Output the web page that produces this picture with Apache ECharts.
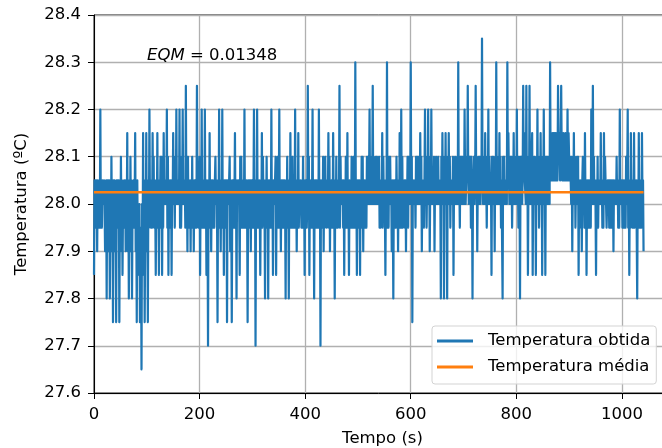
<!DOCTYPE html>
<html>
<head>
<meta charset="utf-8">
<script src="https://cdn.jsdelivr.net/npm/echarts@6/dist/echarts.min.js"></script>
<style>
html,body{margin:0;padding:0;background:#fff;}
#chart{width:662px;height:448px;}
</style>
</head>
<body>
<div id="chart"></div>
<script>
// Temperatura obtida at t = 0, 3, 6, ... s (the spikes)
const obtidaA = [
  27.85,28.05,27.9,28.0,28.2,27.95,28.0,27.9,27.8,28.05,27.8,28.1,27.75,28.05,27.75,28.05,27.75,28.1,27.85,28.05,
  27.9,28.15,27.8,28.1,27.8,28.05,28.15,27.75,28.0,27.75,27.65,28.15,27.75,28.15,27.75,28.2,27.95,28.15,27.95,27.85,
  28.15,27.85,28.1,27.85,28.15,28.0,28.2,27.85,28.05,27.85,28.15,27.95,28.2,28.0,28.2,27.95,28.2,28.0,28.25,27.9,
  28.05,27.9,28.1,27.9,28.05,28.25,27.95,27.85,28.2,27.95,28.2,27.85,27.7,28.15,27.9,28.05,27.95,28.0,27.75,28.2,
  27.9,28.2,27.85,28.05,27.75,28.0,27.9,27.75,28.05,28.15,27.8,28.0,27.85,28.1,27.95,28.2,27.95,27.75,28.05,27.9,
  28.05,28.2,27.7,28.2,27.95,27.85,28.15,28.0,27.8,28.1,27.8,28.05,28.2,27.85,28.0,27.85,28.1,28.2,27.9,28.05,
  27.95,27.8,28.1,27.8,28.15,27.95,28.05,28.2,27.9,28.15,28.0,27.95,28.1,27.85,28.05,28.25,27.85,28.05,28.2,27.8,
  28.05,27.95,28.2,27.7,28.05,27.9,28.1,27.95,28.15,27.9,28.05,28.15,27.8,28.1,27.95,28.25,28.0,28.05,27.85,28.1,
  28.15,27.85,28.05,27.95,28.1,28.3,27.85,28.05,27.85,28.1,27.9,28.05,27.95,28.1,28.2,28.05,28.25,28.05,28.1,28.0,
  28.1,27.95,28.15,28.0,27.85,28.3,27.95,28.1,27.9,27.8,28.05,28.1,27.9,28.15,28.2,27.95,28.05,27.9,28.1,28.0,
  28.3,27.75,28.05,27.95,28.1,28.0,28.15,27.9,28.05,28.2,27.95,28.2,27.9,28.2,28.05,27.9,28.1,28.0,28.05,27.8,
  28.15,27.8,28.15,27.8,28.15,27.95,28.05,27.85,28.1,28.0,28.3,27.95,28.1,28.0,28.2,28.05,28.25,28.1,27.95,27.8,
  28.1,28.25,27.9,28.1,28.0,28.35,28.05,28.15,27.95,28.2,28.05,27.85,28.1,27.9,28.3,28.0,28.15,27.95,27.8,28.1,
  28.0,28.3,28.05,28.1,27.95,28.15,28.0,28.2,27.95,27.8,28.1,28.25,28.05,28.25,27.85,28.25,28.0,27.85,28.1,27.85,
  28.2,27.95,28.15,27.85,28.2,27.85,28.1,28.0,28.3,28.1,28.05,28.15,28.05,28.25,28.1,28.25,28.05,28.1,28.05,28.2,
  28.1,28.05,27.9,28.15,27.95,28.1,27.85,28.05,27.9,28.0,28.15,27.85,28.05,27.95,28.2,28.25,28.0,27.85,28.1,28.0,
  28.15,27.95,28.15,28.05,28.0,28.05,27.95,28.05,27.9,28.0,28.1,27.95,28.2,28.0,28.05,27.95,28.1,28.2,27.85,28.15,
  27.95,28.15,28.0,27.8,28.15,27.95,28.15,27.9
];
// Temperatura obtida at t = 3i+1 and 3i+2 s (the dense band between the spikes), two per slot
const obtidaB = [
  28.05,27.95, 27.95,28.05, 28.05,27.95, 28.05,27.95, 27.95,28.05, 28.05,28.0, 28.05,28.0, 28.0,28.05, 28.05,27.9, 27.95,28.05,
  28.0,27.9, 27.95,28.0, 28.05,27.9, 27.9,28.0, 28.05,27.95, 27.95,28.05, 28.0,27.9, 27.95,28.05, 28.0,27.95, 27.95,28.05,
  28.05,27.95, 27.9,28.05, 28.0,27.9, 27.95,28.05, 28.0,27.95, 27.95,28.0, 27.9,28.0, 28.05,27.9, 27.85,28.0, 27.9,27.95,
  28.0,27.85, 27.9,28.05, 27.95,27.9, 27.95,28.0, 28.05,27.95, 28.0,28.05, 28.05,27.95, 28.0,28.1, 28.05,28.0, 28.05,27.95,
  27.95,28.05, 28.05,28.0, 27.95,28.1, 28.05,27.95, 28.0,28.05, 28.05,28.0, 27.95,28.1, 28.05,28.0, 27.95,28.05, 28.05,28.0,
  28.0,28.05, 28.1,28.0, 28.0,28.05, 28.05,28.0, 27.95,28.1, 28.05,28.0, 28.0,28.05, 28.05,27.95, 28.0,28.05, 28.1,27.95,
  27.95,28.05, 28.05,27.95, 27.95,28.05, 28.05,27.95, 28.0,27.95, 28.0,28.05, 28.05,28.1, 28.05,27.95, 27.95,28.05, 28.05,27.95,
  27.95,28.05, 28.05,28.0, 28.05,27.95, 27.95,28.05, 28.05,27.95, 27.95,28.05, 28.05,28.1, 28.05,28.0, 28.05,27.95, 27.95,28.05,
  28.05,27.95, 27.95,28.05, 28.05,27.95, 27.95,28.05, 28.05,28.0, 28.05,28.1, 28.05,28.0, 28.05,27.95, 27.95,28.0, 27.95,28.05,
  28.05,28.0, 28.05,28.0, 28.1,27.95, 27.95,28.05, 28.05,27.95, 27.95,28.05, 28.05,28.0, 28.05,27.95, 27.95,28.05, 28.05,27.95,
  27.95,28.0, 27.95,28.05, 28.05,27.95, 27.95,28.05, 28.05,28.0, 28.05,27.95, 27.95,28.1, 28.05,28.0, 28.05,27.95, 27.95,28.05,
  28.05,27.95, 28.0,27.95, 27.95,28.05, 28.05,28.0, 28.05,28.1, 28.05,27.95, 27.95,28.0, 27.95,28.05, 28.05,27.95, 27.95,28.05,
  28.05,28.0, 28.05,27.95, 27.95,28.05, 28.05,27.95, 27.95,28.05, 28.1,27.95, 28.0,27.95, 27.95,28.05, 28.05,27.95, 27.95,28.05,
  28.05,28.0, 28.05,27.95, 27.95,28.05, 28.05,27.95, 27.95,28.0, 28.0,28.1, 28.05,27.95, 27.95,28.0, 27.95,28.05, 28.05,27.95,
  27.95,28.05, 28.05,27.95, 27.95,28.05, 28.05,27.95, 27.95,28.1, 28.05,27.95, 28.0,28.05, 28.05,28.0, 27.95,28.1, 28.05,27.95,
  28.0,27.95, 28.0,28.05, 28.05,27.95, 27.95,28.05, 28.05,28.0, 27.95,28.1, 28.05,28.0, 27.95,28.05, 28.05,27.95, 28.0,27.95,
  27.95,28.05, 28.05,27.95, 27.95,28.1, 28.05,27.95, 28.0,27.95, 28.0,28.05, 28.05,27.95, 27.95,28.05, 28.05,27.95, 27.95,28.1,
  28.05,27.95, 27.95,28.05, 28.1,28.0, 28.0,28.05, 28.0,28.1, 28.0,28.05, 28.0,28.1, 28.0,28.05, 28.0,28.1, 28.05,28.0,
  27.95,28.05, 28.05,28.0, 27.95,28.1, 28.05,28.0, 28.05,27.95, 27.95,28.05, 28.1,28.0, 28.0,28.05, 28.05,28.0, 28.05,27.95,
  28.0,27.95, 28.0,28.05, 28.05,27.95, 28.0,27.95, 27.95,28.1, 28.05,28.0, 27.95,28.05, 28.05,28.0, 27.95,28.1, 28.05,28.0,
  28.0,28.1, 28.05,28.0, 28.0,28.05, 28.1,28.0, 28.0,28.1, 28.05,28.0, 28.0,28.1, 28.05,28.0, 27.95,28.05, 28.0,28.1,
  28.05,28.0, 28.0,28.1, 28.05,28.0, 28.0,28.05, 28.0,28.1, 28.05,28.0, 28.0,28.05, 28.1,28.0, 28.0,28.05, 28.1,28.0,
  28.0,28.1, 28.05,28.0, 28.0,28.05, 28.1,28.0, 28.0,28.1, 28.05,28.0, 28.0,28.1, 28.05,28.0, 28.0,28.05, 28.1,28.0,
  28.0,28.05, 28.1,28.0, 28.0,28.1, 28.05,28.0, 28.05,28.0, 28.1,28.05, 28.05,28.0, 28.05,28.1, 28.1,28.05, 28.05,28.0,
  28.0,28.05, 28.05,28.1, 28.05,28.0, 28.0,28.1, 28.1,28.05, 28.05,28.0, 28.1,28.0, 28.0,28.05, 28.1,28.0, 28.0,28.1,
  28.0,28.05, 28.1,28.0, 28.0,28.05, 28.1,28.0, 28.0,28.1, 28.05,28.0, 28.0,28.1, 28.05,28.05, 28.1,28.0, 28.0,28.05,
  28.05,28.0, 28.05,28.15, 28.0,28.05, 28.0,28.1, 28.05,28.0, 28.0,28.1, 28.05,28.0, 28.0,28.05, 28.1,28.05, 28.1,28.0,
  28.0,28.05, 28.05,28.15, 28.05,28.0, 28.0,28.1, 28.05,28.0, 28.0,28.1, 28.1,28.15, 28.05,28.0, 28.0,28.05, 28.1,28.0,
  28.0,28.1, 28.05,28.0, 28.0,28.1, 28.05,28.0, 28.0,28.05, 28.1,28.0, 28.0,28.1, 28.05,28.0, 28.05,28.15, 28.05,28.15,
  28.15,28.05, 28.05,28.15, 28.15,28.05, 28.1,28.15, 28.05,28.15, 28.1,28.05, 28.15,28.05, 28.05,28.15, 28.15,28.05, 28.05,28.15,
  28.05,28.1, 28.0,28.1, 28.05,28.0, 28.0,28.1, 28.05,28.0, 28.0,28.1, 28.05,27.95, 28.0,28.05, 28.05,28.1, 28.05,27.95,
  28.0,28.05, 28.05,27.95, 27.95,28.05, 28.05,27.95, 28.0,28.05, 28.0,28.1, 28.05,28.0, 28.05,27.95, 27.95,28.05, 28.05,28.0,
  28.0,28.05, 28.05,27.95, 28.0,28.1, 28.0,27.95, 28.05,28.0, 27.95,28.05, 28.05,27.95, 27.95,28.05, 28.05,28.0, 28.05,28.0,
  28.0,28.05, 28.05,27.95, 28.0,28.05, 28.05,27.95, 27.95,28.05, 28.05,27.95, 28.0,28.05, 27.95,28.05, 28.05,27.95, 28.0,28.05,
  28.05,27.95, 27.95,28.05, 28.05,27.95, 28.05,27.95, 27.95,28.05, 28.05,27.95, 28.0,28.05
];
const passo = 1; // seconds between consecutive readings
const obtida = [];
obtidaA.forEach((v, i) => {
  obtida.push(v);
  if (2 * i + 1 < obtidaB.length) obtida.push(obtidaB[2 * i], obtidaB[2 * i + 1]);
});
const tempo = obtida.map((_, i) => i * passo);
const media = 28.025;
const eqm = '0.01348';
const xTicks = [0, 200, 400, 600, 800, 1000];
const yTicks = [27.6, 27.7, 27.8, 27.9, 28.0, 28.1, 28.2, 28.3, 28.4];

const FONT = 'DejaVu Sans';
const FS = 16.5;

const chart = echarts.init(document.getElementById('chart'), null, {renderer: 'canvas'});
chart.setOption({
  animation: false,
  backgroundColor: '#fff',
  textStyle: {fontFamily: FONT},
  title: {
    text: '{i|EQM}{n| = ' + eqm + '}',
    left: 147, top: 47, padding: 0,
    textStyle: {
      fontWeight: 'normal',
      rich: {
        i: {fontFamily: FONT, fontStyle: 'italic', fontWeight: 'normal', fontSize: FS, color: '#000'},
        n: {fontFamily: FONT, fontWeight: 'normal', fontSize: FS, color: '#000'}
      }
    }
  },
  legend: {
    orient: 'vertical',
    left: 432, top: 326,
    padding: [5, 6, 7, 5],
    itemGap: 6,
    itemWidth: 36, itemHeight: 3,
    backgroundColor: 'rgba(255,255,255,0.8)',
    borderColor: '#d3d3d3', borderWidth: 1, borderRadius: 3,
    textStyle: {fontFamily: FONT, fontSize: FS, color: '#000', lineHeight: 20, padding: [0, 0, 0, 10]},
    data: [
      {name: 'Temperatura obtida', icon: 'rect'},
      {name: 'Temperatura média', icon: 'rect'}
    ]
  },
  grid: {
    left: 94, top: 15, width: 577, height: 378,
    containLabel: false,
    outerBoundsMode: 'none',
    show: true, borderColor: '#000', borderWidth: 1, backgroundColor: 'transparent'
  },
  xAxis: {
    type: 'value', min: 0, max: 1093, interval: 200,
    name: 'Tempo (s)', nameLocation: 'middle', nameGap: 37,
    nameTextStyle: {fontFamily: FONT, fontSize: FS, color: '#000'},
    axisLine: {show: true, lineStyle: {color: '#000', width: 1}},
    axisTick: {show: true, length: 6, lineStyle: {color: '#000', width: 1}},
    axisLabel: {
      fontFamily: FONT, fontSize: FS, color: '#000', margin: 13,
      showMaxLabel: false,
      formatter: v => (xTicks.indexOf(v) >= 0 ? String(v) : '')
    },
    splitLine: {show: true, lineStyle: {color: '#b0b0b0', width: 1.3}}
  },
  yAxis: {
    type: 'value', min: 27.6, max: 28.4, interval: 0.1,
    name: 'Temperatura (ºC)', nameLocation: 'middle', nameGap: 64,
    nameTextStyle: {fontFamily: FONT, fontSize: FS, color: '#000'},
    axisLine: {show: true, lineStyle: {color: '#000', width: 1}},
    axisTick: {show: true, length: 6, lineStyle: {color: '#000', width: 1}},
    axisLabel: {
      fontFamily: FONT, fontSize: FS, color: '#000', margin: 13,
      formatter: v => {
        const r = Math.round(v * 10) / 10;
        return yTicks.some(t => Math.abs(t - r) < 1e-6) ? r.toFixed(1) : '';
      }
    },
    splitLine: {show: true, lineStyle: {color: '#b0b0b0', width: 1.3}}
  },
  series: [
    {
      name: 'Temperatura obtida',
      type: 'line',
      data: tempo.map((t, i) => [t, obtida[i]]),
      showSymbol: false, symbol: 'none',
      sampling: null,
      color: '#1f77b4',
      lineStyle: {color: '#1f77b4', width: 2.2, join: 'round'},
      z: 2
    },
    {
      name: 'Temperatura média',
      type: 'line',
      data: [[tempo[0], media], [tempo[tempo.length - 1], media]],
      showSymbol: false, symbol: 'none',
      color: '#ff7f0e',
      lineStyle: {color: '#ff7f0e', width: 2.5},
      z: 3
    }
  ]
});
</script>
</body>
</html>
